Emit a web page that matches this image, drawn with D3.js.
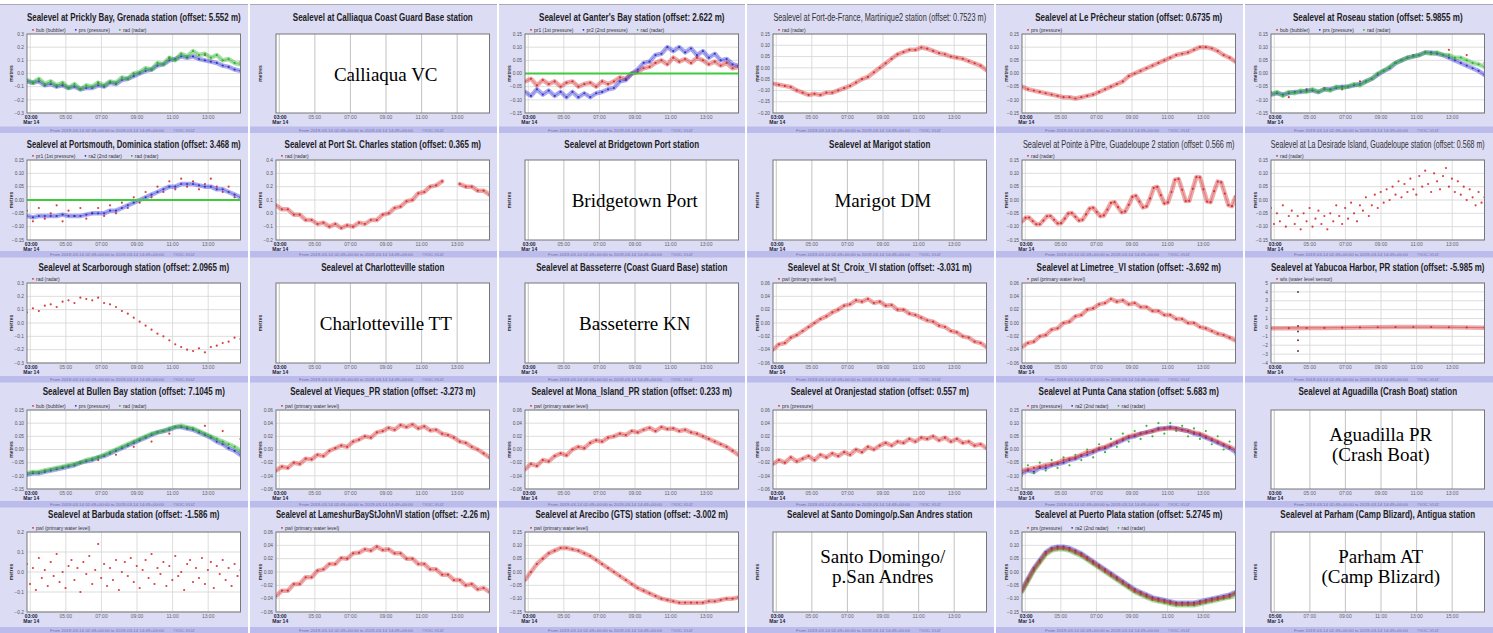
<!DOCTYPE html>
<html>
<head>
<meta charset="utf-8">
<script src="https://cdn.jsdelivr.net/npm/d3@7"></script>
<style>
body { margin: 0; background: #fff; }
svg { display: block; font-family: "Liberation Sans", Arial, sans-serif; }
</style>
</head>
<body>
<div id="chart"></div>
<script>
// ---- data (metres, relative to station offset) ----
const day = "2019-03-14";
const dataWindow = ["02:49", "14:49"];
const parhamWindow = ["04:49", "16:49"];
const timeTicks = ["03:00", "05:00", "07:00", "09:00", "11:00", "13:00"];
const parhamTicks = ["05:00", "07:00", "09:00", "11:00", "13:00", "15:00"];
const dateLabel = "Mar 14";
const footerText = "From 2019-03-14 02:49+00:00 to 2019-03-14 14:49+00:00";
const footerCredit = "\u00a9IOC-VLIZ";

const titles = [
  "Sealevel at Prickly Bay, Grenada station (offset: 5.552 m)",
  "Sealevel at Calliaqua Coast Guard Base station",
  "Sealevel at Ganter's Bay station (offset: 2.622 m)",
  "Sealevel at Fort-de-France, Martinique2 station (offset: 0.7523 m)",
  "Sealevel at Le Prêcheur station (offset: 0.6735 m)",
  "Sealevel at Roseau station (offset: 5.9855 m)",
  "Sealevel at Portsmouth, Dominica station (offset: 3.468 m)",
  "Sealevel at Port St. Charles station (offset: 0.365 m)",
  "Sealevel at Bridgetown Port station",
  "Sealevel at Marigot station",
  "Sealevel at Pointe à Pitre, Guadeloupe 2 station (offset: 0.566 m)",
  "Sealevel at La Desirade Island, Guadeloupe station (offset: 0.568 m)",
  "Sealevel at Scarborough station (offset: 2.0965 m)",
  "Sealevel at Charlotteville station",
  "Sealevel at Basseterre (Coast Guard Base) station",
  "Sealevel at St_Croix_VI station (offset: -3.031 m)",
  "Sealevel at Limetree_VI station (offset: -3.692 m)",
  "Sealevel at Yabucoa Harbor, PR station (offset: -5.985 m)",
  "Sealevel at Bullen Bay station (offset: 7.1045 m)",
  "Sealevel at Vieques_PR station (offset: -3.273 m)",
  "Sealevel at Mona_Island_PR station (offset: 0.233 m)",
  "Sealevel at Oranjestad station (offset: 0.557 m)",
  "Sealevel at Punta Cana station (offset: 5.683 m)",
  "Sealevel at Aguadilla (Crash Boat) station",
  "Sealevel at Barbuda station (offset: -1.586 m)",
  "Sealevel at LameshurBayStJohnVI station (offset: -2.26 m)",
  "Sealevel at Arecibo (GTS) station (offset: -3.002 m)",
  "Sealevel at Santo Domingo/p.San Andres station",
  "Sealevel at Puerto Plata station (offset: 5.2745 m)",
  "Sealevel at Parham (Camp Blizard), Antigua station"
];
const lightTitles = [3, 10, 11];

const bubPrsRad = ["bub (bubbler)", "prs (pressure)", "rad (radar)"];
const pwl = ["pwl (primary water level)"];
const legends = [
  bubPrsRad, null, ["pr1 (1st pressure)", "pr2 (2nd pressure)", "rad (radar)"], ["rad (radar)"], ["prs (pressure)"], bubPrsRad,
  ["pr1 (1st pressure)", "ra2 (2nd radar)", "rad (radar)"], ["rad (radar)"], null, null, ["rad (radar)"], ["rad (radar)"],
  ["rad (radar)"], null, null, pwl, pwl, ["wls (water level sensor)"],
  bubPrsRad, pwl, pwl, ["prs (pressure)"], ["prs (pressure)", "ra2 (2nd radar)", "rad (radar)"], null,
  pwl, pwl, pwl, null, ["prs (pressure)", "ra2 (2nd radar)", "rad (radar)"], null
];

const placeholders = [
  null, ["Calliaqua VC"], null, null, null, null,
  null, null, ["Bridgetown Port"], ["Marigot DM"], null, null,
  null, ["Charlotteville TT"], ["Basseterre KN"], null, null, null,
  null, null, null, null, null, ["Aguadilla PR", "(Crash Boat)"],
  null, null, null, ["Santo Domingo/", "p.San Andres"], null, ["Parham AT", "(Camp Blizard)"]
];

// y tick sets
const ticks03 = [-0.3, -0.2, -0.1, 0, 0.1, 0.2, 0.3];
const ticks015 = [-0.15, -0.1, -0.05, 0, 0.05, 0.1, 0.15];
const ticksFdf = [-0.2, -0.15, -0.1, -0.05, 0, 0.05, 0.1, 0.15];
const ticksPsc = [-0.2, -0.1, 0, 0.1, 0.2, 0.3, 0.4];
const ticks006 = [-0.06, -0.04, -0.02, 0, 0.02, 0.04, 0.06];
const ticks02 = [-0.2, -0.1, 0, 0.1, 0.2];
const ticksYab = [-4, -3, -2, -1, 0, 1, 2, 3, 4, 5];

// series: evenly spaced samples over the 12 h window
const pbBub = [-0.05, -0.09, -0.07, 0.0, 0.12, 0.14, 0.09];
const pbPrs = [-0.06, -0.07, -0.06, -0.09, -0.08, -0.10, -0.09, -0.11, -0.10, -0.12, -0.11, -0.11, -0.09, -0.10, -0.07, -0.08, -0.05, -0.04, -0.02, 0.00, 0.02, 0.03, 0.06, 0.07, 0.10, 0.11, 0.13, 0.12, 0.13, 0.11, 0.10, 0.09, 0.08, 0.06, 0.05, 0.03, 0.02];
const pbRad = [-0.05, -0.07, -0.04, -0.08, -0.06, -0.09, -0.07, -0.11, -0.08, -0.12, -0.09, -0.10, -0.07, -0.09, -0.06, -0.07, -0.03, -0.04, 0.00, 0.01, 0.04, 0.03, 0.08, 0.07, 0.12, 0.10, 0.15, 0.13, 0.17, 0.14, 0.15, 0.12, 0.14, 0.10, 0.11, 0.08, 0.07];

const gbPr1 = [-0.03, -0.02, -0.045, -0.025, -0.04, -0.03, -0.05, -0.035, -0.03, -0.05, -0.04, -0.035, -0.05, -0.03, -0.04, -0.03, -0.015, -0.02, 0.00, 0.005, 0.02, 0.025, 0.04, 0.05, 0.035, 0.06, 0.045, 0.055, 0.04, 0.06, 0.05, 0.035, 0.045, 0.03, 0.04, 0.02, 0.025];
const gbPr2 = [-0.07, -0.085, -0.06, -0.08, -0.065, -0.085, -0.07, -0.09, -0.07, -0.09, -0.075, -0.09, -0.075, -0.07, -0.06, -0.055, -0.03, -0.025, 0.00, 0.015, 0.04, 0.045, 0.07, 0.075, 0.10, 0.085, 0.10, 0.08, 0.095, 0.07, 0.085, 0.06, 0.075, 0.05, 0.055, 0.035, 0.03];
const gbRad = [0, 0, 0, 0, 0, 0, 0, 0, 0, 0, 0, 0, 0];

const ffRad = [-0.07, -0.075, -0.08, -0.085, -0.10, -0.11, -0.12, -0.115, -0.12, -0.11, -0.11, -0.10, -0.09, -0.08, -0.065, -0.05, -0.04, -0.02, 0.00, 0.02, 0.04, 0.06, 0.07, 0.08, 0.08, 0.09, 0.085, 0.075, 0.065, 0.06, 0.05, 0.045, 0.04, 0.03, 0.02, 0.01, -0.01];

const lpPrs = [-0.05, -0.06, -0.065, -0.07, -0.075, -0.08, -0.085, -0.09, -0.09, -0.095, -0.09, -0.085, -0.08, -0.07, -0.06, -0.05, -0.04, -0.03, -0.01, 0.00, 0.01, 0.02, 0.03, 0.04, 0.05, 0.06, 0.07, 0.075, 0.08, 0.09, 0.10, 0.10, 0.095, 0.085, 0.07, 0.06, 0.045];

const rsBub = [-0.07, -0.09, -0.06, -0.055, -0.06, -0.03, 0.00, 0.04, 0.07, 0.075, 0.09, 0.07, 0.04];
const rsPrs = [-0.08, -0.075, -0.08, -0.075, -0.07, -0.07, -0.065, -0.065, -0.07, -0.06, -0.06, -0.055, -0.05, -0.05, -0.045, -0.04, -0.03, -0.02, -0.005, 0.01, 0.02, 0.04, 0.05, 0.06, 0.065, 0.07, 0.08, 0.08, 0.075, 0.07, 0.06, 0.05, 0.04, 0.03, 0.02, 0.01, -0.005];
const rsRad = [-0.08, -0.07, -0.085, -0.07, -0.075, -0.065, -0.07, -0.06, -0.07, -0.06, -0.065, -0.05, -0.055, -0.05, -0.04, -0.045, -0.03, -0.02, 0.00, 0.01, 0.025, 0.04, 0.05, 0.06, 0.065, 0.07, 0.08, 0.075, 0.08, 0.07, 0.07, 0.06, 0.06, 0.05, 0.04, 0.035, 0.025];

const psPr1 = [-0.04, -0.08, -0.03, -0.07, -0.05, -0.02, -0.08, -0.04, -0.06, -0.03, -0.07, -0.05, -0.03, -0.06, -0.02, -0.05, -0.01, -0.03, 0.01, -0.01, 0.03, 0.01, 0.05, 0.03, 0.07, 0.04, 0.08, 0.05, 0.07, 0.04, 0.06, 0.08, 0.05, 0.03, 0.05, 0.01, 0.00];
const psRa2 = [-0.06, -0.065, -0.06, -0.06, -0.06, -0.06, -0.055, -0.06, -0.06, -0.06, -0.055, -0.05, -0.05, -0.05, -0.04, -0.04, -0.03, -0.02, -0.01, 0.00, 0.01, 0.02, 0.03, 0.04, 0.05, 0.05, 0.06, 0.06, 0.06, 0.055, 0.05, 0.05, 0.04, 0.04, 0.03, 0.02, 0.01];
const psRad = [0, 0, 0, 0, 0, 0, 0, 0, 0, 0, 0, 0, 0];

const pscRad = [0.06, 0.03, 0.03, -0.01, -0.01, -0.05, -0.05, -0.08, -0.07, -0.10, -0.08, -0.11, -0.09, -0.10, -0.07, -0.08, -0.05, -0.05, -0.01, 0.00, 0.04, 0.05, 0.09, 0.10, 0.15, 0.16, 0.20, 0.21, 0.24, null, null, 0.22, 0.20, 0.20, 0.17, 0.17, 0.14];

const papRad = [-0.080, -0.067, -0.066, -0.079, -0.091, -0.091, -0.077, -0.061, -0.060, -0.074, -0.088, -0.087, -0.070, -0.051, -0.049, -0.063, -0.077, -0.074, -0.054, -0.032, -0.029, -0.045, -0.061, -0.058, -0.036, -0.011, -0.008, -0.027, -0.046, -0.043, -0.018, 0.012, 0.016, -0.006, -0.028, -0.024, 0.006, 0.045, 0.049, 0.018, -0.013, -0.009, 0.030, 0.076, 0.079, 0.038, -0.004, -0.003, 0.042, 0.086, 0.085, 0.040, -0.006, -0.008, 0.033, 0.069, 0.066, 0.024, -0.019, -0.023, 0.012];

const ldRad = [-0.03, -0.09, -0.05, -0.08, -0.02, -0.10, -0.06, -0.04, -0.09, -0.06, -0.11, -0.05, -0.08, -0.03, -0.10, -0.07, -0.04, -0.09, -0.06, -0.11, -0.05, -0.08, -0.02, -0.06, -0.09, -0.03, -0.07, -0.01, -0.05, -0.08, -0.02, -0.04, 0.01, -0.06, -0.02, 0.02, -0.03, 0.03, -0.01, 0.04, 0.00, 0.05, 0.02, 0.07, 0.01, 0.06, 0.03, 0.08, 0.04, 0.02, 0.09, 0.05, 0.11, 0.06, 0.03, 0.10, 0.07, 0.04, 0.09, 0.12, 0.05, 0.08, 0.03, 0.07, 0.02, 0.05, 0.00, 0.04, 0.01, -0.02, 0.03, -0.01, 0.01];

const scRad = [0.08, 0.11, 0.09, 0.13, 0.14, 0.12, 0.16, 0.17, 0.15, 0.19, 0.18, 0.17, 0.19, 0.15, 0.14, 0.12, 0.09, 0.07, 0.04, 0.01, -0.02, -0.05, -0.08, -0.10, -0.13, -0.16, -0.18, -0.20, -0.21, -0.19, -0.22, -0.18, -0.17, -0.15, -0.14, -0.11, -0.12];

const stcPwl = [-0.040, -0.032, -0.030, -0.022, -0.018, -0.012, -0.006, 0.000, 0.006, 0.010, 0.016, 0.020, 0.026, 0.028, 0.034, 0.032, 0.036, 0.030, 0.032, 0.026, 0.027, 0.020, 0.020, 0.014, 0.012, 0.008, 0.004, 0.002, -0.004, -0.006, -0.012, -0.014, -0.020, -0.022, -0.028, -0.030, -0.036];
const ltPwl = [-0.036, -0.030, -0.028, -0.020, -0.018, -0.010, -0.008, 0.000, 0.002, 0.010, 0.012, 0.020, 0.022, 0.028, 0.030, 0.036, 0.032, 0.034, 0.028, 0.030, 0.024, 0.024, 0.018, 0.018, 0.012, 0.012, 0.006, 0.006, 0.000, 0.000, -0.006, -0.008, -0.012, -0.016, -0.018, -0.022, -0.026];

const ybWls = [-0.10, -0.08, -0.06, -0.05, -0.03, 0.00, 0.02, 0.04, 0.05, 0.04, 0.02, 0.00, -0.03];
const ybSpikeTime = "04:20";
const ybSpikes = [4.0, 0.15, -0.45, -1.45, -2.65];

const bbBub = [-0.09, -0.08, -0.07, -0.05, -0.04, -0.02, 0.01, 0.03, 0.06, 0.08, 0.09, 0.07, 0.04];
const bbPrs = [-0.095, -0.09, -0.09, -0.085, -0.08, -0.075, -0.07, -0.065, -0.06, -0.05, -0.045, -0.04, -0.03, -0.025, -0.015, -0.005, 0.005, 0.015, 0.025, 0.035, 0.045, 0.055, 0.065, 0.07, 0.075, 0.085, 0.085, 0.08, 0.075, 0.065, 0.055, 0.045, 0.03, 0.02, 0.005, -0.005, -0.02];
const bbRad = [-0.09, -0.085, -0.085, -0.08, -0.075, -0.07, -0.065, -0.06, -0.055, -0.05, -0.04, -0.035, -0.03, -0.02, -0.01, 0.00, 0.01, 0.02, 0.03, 0.04, 0.05, 0.06, 0.065, 0.07, 0.08, 0.085, 0.09, 0.085, 0.08, 0.07, 0.06, 0.05, 0.04, 0.03, 0.02, 0.01, -0.005];

const vqPwl = [-0.032, -0.026, -0.028, -0.020, -0.022, -0.014, -0.015, -0.008, -0.010, -0.002, 0.002, 0.006, 0.004, 0.012, 0.015, 0.020, 0.018, 0.026, 0.028, 0.033, 0.030, 0.037, 0.034, 0.038, 0.032, 0.035, 0.029, 0.030, 0.024, 0.022, 0.018, 0.012, 0.010, 0.004, 0.000, -0.006, -0.012];
const mnPwl = [-0.030, -0.022, -0.025, -0.016, -0.018, -0.010, -0.006, -0.009, 0.000, 0.004, 0.002, 0.010, 0.014, 0.012, 0.018, 0.020, 0.024, 0.022, 0.028, 0.026, 0.030, 0.033, 0.028, 0.034, 0.031, 0.032, 0.028, 0.030, 0.026, 0.024, 0.020, 0.016, 0.012, 0.008, 0.004, -0.002, -0.008];
const orPrs = [-0.022, -0.016, -0.020, -0.012, -0.018, -0.014, -0.010, -0.016, -0.008, -0.012, -0.006, -0.010, -0.004, -0.008, 0.000, -0.004, 0.004, 0.000, 0.006, 0.010, 0.006, 0.012, 0.010, 0.016, 0.012, 0.018, 0.016, 0.020, 0.014, 0.018, 0.012, 0.016, 0.010, 0.012, 0.006, 0.008, 0.002];

const pcPrs = [-0.08, -0.075, -0.07, -0.065, -0.06, -0.055, -0.05, -0.04, -0.035, -0.03, -0.02, -0.01, -0.005, 0.005, 0.01, 0.02, 0.03, 0.04, 0.05, 0.055, 0.06, 0.065, 0.07, 0.075, 0.08, 0.08, 0.08, 0.075, 0.07, 0.065, 0.06, 0.05, 0.04, 0.03, 0.02, 0.01, 0.0];
const pcRa2 = [-0.09, -0.08, -0.085, -0.07, -0.07, -0.06, -0.055, -0.05, -0.04, -0.035, -0.025, -0.02, -0.01, 0.00, 0.005, 0.015, 0.025, 0.035, 0.045, 0.05, 0.06, 0.065, 0.07, 0.08, 0.08, 0.085, 0.08, 0.075, 0.07, 0.06, 0.055, 0.045, 0.035, 0.025, 0.015, 0.005, -0.01];
const pcRad = [-0.10, -0.06, -0.09, -0.05, -0.08, -0.04, -0.07, -0.03, -0.06, -0.02, -0.04, 0.00, -0.03, 0.02, -0.01, 0.04, 0.01, 0.06, 0.03, 0.07, 0.04, 0.09, 0.05, 0.10, 0.06, 0.10, 0.07, 0.09, 0.05, 0.08, 0.04, 0.07, 0.02, 0.05, 0.00, 0.03, -0.02];

const baPwl = [0.04, -0.06, 0.02, -0.09, 0.07, -0.03, 0.01, -0.07, 0.05, -0.02, 0.09, -0.05, 0.00, -0.08, 0.03, 0.06, -0.04, 0.02, -0.10, 0.05, -0.01, 0.08, -0.06, 0.01, 0.14, -0.03, 0.04, -0.07, 0.02, -0.04, 0.06, -0.09, 0.00, 0.05, -0.02, 0.07, -0.05, 0.03, -0.08, 0.01, 0.06, -0.03, 0.09, -0.06, 0.02, -0.01, 0.05, -0.07, 0.03, -0.04, 0.08, -0.02, 0.00, -0.09, 0.04, 0.06, -0.05, 0.02, -0.03, 0.07, -0.06, 0.01, 0.05, -0.08, 0.03, -0.01, 0.06, -0.04, 0.02, -0.07, 0.04, -0.02, 0.01];
const lbPwl = [-0.036, -0.028, -0.028, -0.018, -0.018, -0.008, -0.008, 0.002, 0.004, 0.012, 0.012, 0.021, 0.020, 0.028, 0.029, 0.034, 0.032, 0.038, 0.033, 0.034, 0.028, 0.028, 0.020, 0.020, 0.012, 0.012, 0.004, 0.004, -0.004, -0.004, -0.012, -0.012, -0.020, -0.018, -0.026, -0.024, -0.030];
const arPwl = [-0.03, 0.00, 0.03, 0.05, 0.07, 0.08, 0.09, 0.09, 0.085, 0.08, 0.07, 0.06, 0.045, 0.03, 0.015, 0.00, -0.015, -0.03, -0.045, -0.06, -0.07, -0.08, -0.09, -0.10, -0.105, -0.11, -0.115, -0.115, -0.115, -0.115, -0.115, -0.11, -0.11, -0.105, -0.10, -0.10, -0.095];
const plPrs = [-0.07, -0.03, 0.01, 0.04, 0.07, 0.085, 0.09, 0.09, 0.085, 0.075, 0.065, 0.05, 0.035, 0.02, 0.005, -0.01, -0.025, -0.04, -0.055, -0.07, -0.08, -0.09, -0.10, -0.105, -0.11, -0.115, -0.12, -0.12, -0.12, -0.12, -0.115, -0.11, -0.105, -0.10, -0.095, -0.09, -0.08];
const plRa2 = [-0.065, -0.025, 0.015, 0.045, 0.075, 0.09, 0.095, 0.095, 0.09, 0.08, 0.07, 0.055, 0.04, 0.025, 0.01, -0.005, -0.02, -0.035, -0.05, -0.065, -0.075, -0.085, -0.095, -0.10, -0.105, -0.11, -0.115, -0.115, -0.115, -0.115, -0.11, -0.105, -0.10, -0.095, -0.09, -0.085, -0.075];
const plRad = [-0.075, -0.035, 0.005, 0.035, 0.065, 0.08, 0.085, 0.085, 0.08, 0.07, 0.06, 0.045, 0.03, 0.015, 0.0, -0.015, -0.03, -0.045, -0.06, -0.075, -0.085, -0.095, -0.105, -0.11, -0.115, -0.12, -0.125, -0.125, -0.125, -0.125, -0.12, -0.115, -0.11, -0.105, -0.10, -0.095, -0.085];

// per-panel lists (series in legend order: red, blue, green)
const seriesSets = [
  [pbBub, pbPrs, pbRad], null, [gbPr1, gbPr2, gbRad], [ffRad], [lpPrs], [rsBub, rsPrs, rsRad],
  [psPr1, psRa2, psRad], [pscRad], null, null, [papRad], [ldRad],
  [scRad], null, null, [stcPwl], [ltPwl], [ybWls],
  [bbBub, bbPrs, bbRad], [vqPwl], [mnPwl], [orPrs], [pcPrs, pcRa2, pcRad], null,
  [baPwl], [lbPwl], [arPwl], null, [plPrs, plRa2, plRad], null
];
const tickSets = [
  ticks03, null, ticks015, ticksFdf, ticks015, ticks015,
  ticks015, ticksPsc, null, null, ticks015, ticks015,
  ticks03, null, null, ticks006, ticks006, ticksYab,
  ticks015, ticks006, ticks006, ticks006, ticks015, null,
  ticks02, ticks006, ticks015, null, ticks015, null
];

// ---- drawing styles ----
const scatterOnly = new Set([pbBub, rsBub, bbBub, psPr1, ldRad, scRad, baPwl, pcRad]);
const lineOnly = new Set([gbRad, psRad]);
const redOnTop = [22, 28];
const colors = ["#d42a2a", "#2b2bd0", "#25b025"];

const W = 1493, H = 633;
const colX = [0, 249, 498, 746, 995, 1244];
const titleBase = [20.5, 148, 271, 395, 518];
const plotTop = [34, 160, 283, 410, 532];
const plotBot = [113, 240, 363, 489, 612];
const stripY = [126.5, 251, 376, 501, 627];
const plotL = 27, plotR = 240.5;

const parseTime = d3.timeParse("%Y-%m-%d %H:%M");

const svg = d3.select("#chart").append("svg")
  .attr("width", W).attr("height", H);

svg.append("rect").attr("width", W).attr("height", H).attr("fill", "#dcdcf5");
svg.append("rect").attr("width", W).attr("height", 4).attr("fill", "#fff");
svg.append("line").attr("x1", 0).attr("x2", W).attr("y1", 4.5).attr("y2", 4.5)
  .attr("stroke", "#a8a8b8").attr("stroke-width", 1);

// footer strips
stripY.forEach(sy => {
  svg.append("rect").attr("x", 0).attr("y", sy).attr("width", W).attr("height", 6.5)
    .attr("fill", "#bcbcec");
  colX.forEach(cx => {
    svg.append("text").attr("x", cx + 50).attr("y", sy + 5)
      .style("font-size", "4.4px").attr("fill", "#7373ac").text(footerText);
    svg.append("text").attr("x", cx + 173).attr("y", sy + 5)
      .style("font-size", "4.4px").attr("fill", "#7373ac").text(footerCredit);
  });
});

function samplePoints(values, t0, t1) {
  const step = (t1 - t0) / (values.length - 1);
  return values.map((v, k) => ({ t: new Date(+t0 + k * step), v }));
}

function drawPanel(i) {
  const r = Math.floor(i / 6), c = i % 6;
  const g = svg.append("g").attr("transform", `translate(${colX[c]},0)`);
  const top = plotTop[r], bot = plotBot[r];
  const win = i === 29 ? parhamWindow : dataWindow;
  const labels = i === 29 ? parhamTicks : timeTicks;
  const t0 = parseTime(day + " " + win[0]), t1 = parseTime(day + " " + win[1]);

  const x = d3.scaleTime().domain([t0, t1]).range([plotL, plotR]);
  const ticks = tickSets[i];
  const y = ticks ? d3.scaleLinear().domain(d3.extent(ticks)).range([bot, top]) : null;

  // title (squeezed like the source thumbnails)
  const light = lightTitles.includes(i);
  const cx = (plotL + plotR) / 2;
  const tg = g.append("g");
  const tt = tg.append("text").attr("text-anchor", "middle")
    .style("font-size", light ? "10.5px" : "11.5px")
    .style("font-weight", light ? "normal" : "bold")
    .attr("fill", light ? "#333" : "#1e1e1e")
    .text(titles[i]);
  let sx = 0.7;
  const w = tt.node().getComputedTextLength();
  if (w * sx > 214) sx = 214 / w;
  tg.attr("transform", `translate(${cx},${titleBase[r]}) scale(${sx},1)`);

  // legend
  if (legends[i]) {
    let lx = plotL + 6;
    legends[i].forEach((lab, k) => {
      g.append("circle").attr("cx", lx).attr("cy", top - 4.2).attr("r", 0.9).attr("fill", colors[k]);
      const t = g.append("text").attr("x", lx + 3).attr("y", top - 2.5)
        .style("font-size", "5px").attr("fill", "#333").text(lab);
      lx += 3 + t.node().getComputedTextLength() + 10;
    });
  }

  // plot area
  g.append("rect").attr("x", plotL).attr("y", top).attr("width", plotR - plotL).attr("height", bot - top)
    .attr("fill", "#fff");

  const tickTimes = labels.map(s => parseTime(day + " " + s));
  g.selectAll(null).data(tickTimes).enter().append("line")
    .attr("x1", d => x(d)).attr("x2", d => x(d)).attr("y1", top).attr("y2", bot)
    .attr("stroke", ticks ? "#d4d4d4" : "#c8c8c8").attr("stroke-width", ticks ? 0.8 : 1.1);

  if (ticks) {
    g.selectAll(null).data(ticks).enter().append("line")
      .attr("x1", plotL).attr("x2", plotR).attr("y1", d => y(d)).attr("y2", d => y(d))
      .attr("stroke", "#d4d4d4").attr("stroke-width", 0.8);
    const step = Math.round((ticks[1] - ticks[0]) * 1e6) / 1e6;
    const fmt = d3.format("." + d3.precisionFixed(step) + "f");
    g.selectAll(null).data(ticks).enter().append("text")
      .attr("x", plotL - 3).attr("y", d => y(d)).attr("dy", "0.35em")
      .attr("text-anchor", "end").style("font-size", "4.8px").attr("fill", "#555")
      .text(d => fmt(d));
  }

  // y label
  g.append("text").attr("transform", `translate(13,${(top + bot) / 2}) rotate(-90)`)
    .attr("text-anchor", "middle").style("font-size", "5px").style("font-weight", "bold")
    .attr("fill", "#333").text("metres");

  // x labels
  g.selectAll(null).data(labels).enter().append("text")
    .attr("x", (d, k) => x(tickTimes[k]) + (k === 0 ? 1 : 0)).attr("y", bot + 5.5)
    .attr("text-anchor", "middle")
    .style("font-size", "5px").style("font-weight", (d, k) => k === 0 ? "bold" : "normal")
    .attr("fill", (d, k) => k === 0 ? "#1d1d3a" : "#666")
    .text(d => d);
  g.append("text").attr("x", x(tickTimes[0]) + 1).attr("y", bot + 10.5).attr("text-anchor", "middle")
    .style("font-size", "5px").style("font-weight", "bold").attr("fill", "#1d1d3a").text(dateLabel);

  // data
  const sets = seriesSets[i];
  if (sets) {
    const clipId = "clip" + i;
    g.append("clipPath").attr("id", clipId).append("rect")
      .attr("x", plotL).attr("y", top).attr("width", plotR - plotL).attr("height", bot - top);
    const data = g.append("g").attr("clip-path", `url(#${clipId})`);
    const line = d3.line().defined(d => d.v != null).x(d => x(d.t)).y(d => y(d.v));

    let order = sets.map((s, k) => k);
    if (redOnTop.includes(i)) order = [1, 2, 0];

    order.forEach(k => {
      const vals = sets[k];
      const pts = samplePoints(vals, t0, t1);
      const col = colors[k];
      if (lineOnly.has(vals)) {
        data.append("path").datum(pts).attr("d", line).attr("fill", "none")
          .attr("stroke", "#3ccc3c").attr("stroke-width", 2);
        return;
      }
      if (!scatterOnly.has(vals)) {
        data.append("path").datum(pts).attr("d", line).attr("fill", "none")
          .attr("stroke", col).attr("stroke-opacity", 0.4).attr("stroke-width", 4.5)
          .attr("stroke-linejoin", "round").attr("stroke-linecap", "round");
        data.append("path").datum(pts).attr("d", line).attr("fill", "none")
          .attr("stroke", col).attr("stroke-opacity", 0.5).attr("stroke-width", 0.7);
      }
      data.selectAll(null).data(pts.filter(d => d.v != null)).enter().append("circle")
        .attr("cx", d => x(d.t)).attr("cy", d => y(d.v)).attr("r", 1.1)
        .attr("fill", col).attr("fill-opacity", 0.9);
    });

    if (i === 17) {
      const ts = parseTime(day + " " + ybSpikeTime);
      data.selectAll(null).data(ybSpikes).enter().append("circle")
        .attr("cx", x(ts)).attr("cy", d => y(d)).attr("r", 1)
        .attr("fill", "#6a3a3a");
    }
  }

  g.append("rect").attr("x", plotL).attr("y", top).attr("width", plotR - plotL).attr("height", bot - top)
    .attr("fill", "none").attr("stroke", "#777").attr("stroke-width", 1);

  // placeholder station names on empty panels
  const ph = placeholders[i];
  if (ph) {
    const cy = (top + bot) / 2;
    const base = ph.length === 1 ? [cy + 7] : [cy - 9, cy + 11];
    ph.forEach((s, k) => {
      g.append("text").attr("x", cx + 3).attr("y", base[k])
        .attr("text-anchor", "middle")
        .style("font-family", "'Liberation Serif', 'Times New Roman', serif")
        .style("font-size", "19px").attr("fill", "#000").text(s);
    });
  }
}

d3.range(30).forEach(drawPanel);

// white gaps between columns
colX.slice(1).forEach(cx => {
  svg.append("rect").attr("x", cx - 1).attr("y", 0).attr("width", 2).attr("height", H).attr("fill", "#fff");
});
</script>
</body>
</html>
